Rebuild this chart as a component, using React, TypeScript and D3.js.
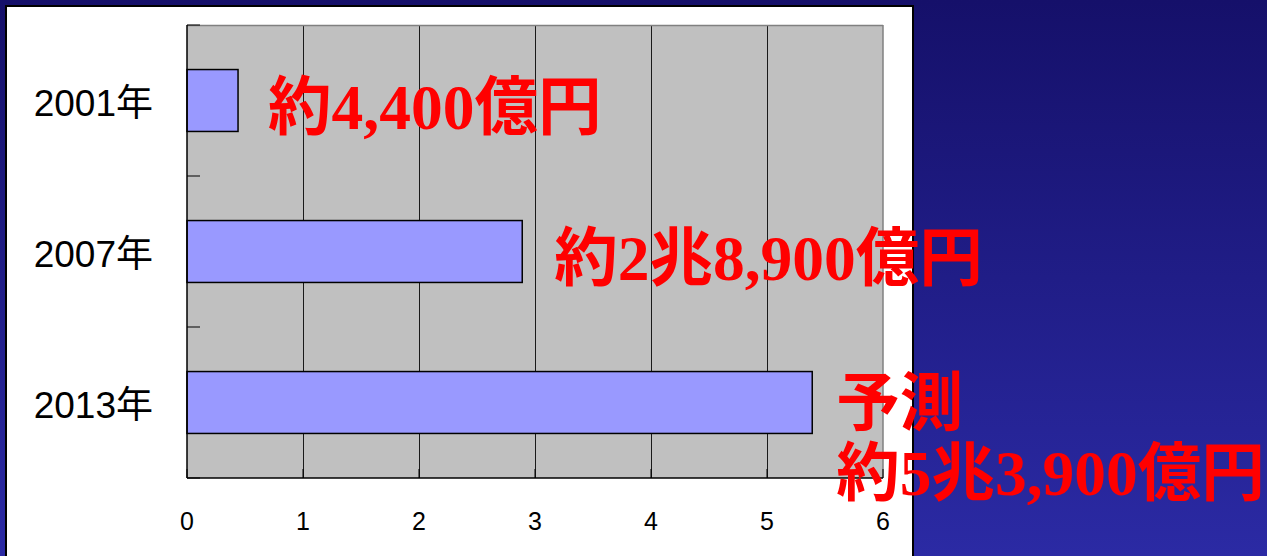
import React from "react";
import * as d3 from "d3";

const categories = ["2001年", "2007年", "2013年"];
const values = [0.44, 2.89, 5.39];
const valueLabels = [["約4,400億円"], ["約2兆8,900億円"], ["予測", "約5兆3,900億円"]];
const xTicks = [0, 1, 2, 3, 4, 5, 6];

const W = 1267;
const H = 556;
const labelDx = [30, 32, 24];

export default function App() {
  const x = d3.scaleLinear().domain([0, 6]).range([187, 883]);
  const y = d3
    .scaleBand<string>()
    .domain(categories)
    .range([25, 478])
    .paddingInner(0.59)
    .paddingOuter(0.295);
  const step = y.step();
  const catBounds = [25, 25 + step, 25 + 2 * step, 478];

  return (
    <svg
      width={W}
      height={H}
      style={{ position: "absolute", left: 0, top: 0, display: "block" }}
    >
      <defs>
        <linearGradient id="bg" x1="0" y1="0" x2="0" y2="1">
          <stop offset="0" stopColor="#15106a" />
          <stop offset="1" stopColor="#2b2aa4" />
        </linearGradient>
      </defs>
      <rect x={0} y={0} width={W} height={H} fill="url(#bg)" />
      <rect x={6} y={6} width={907} height={570} fill="#ffffff" stroke="#000" strokeWidth={2} />

      {/* plot area */}
      <rect x={x(0)} y={25} width={x(6) - x(0)} height={478 - 25} fill="#c0c0c0" />
      {xTicks.slice(1, -1).map((t) => (
        <line key={t} x1={x(t) + 0.5} x2={x(t) + 0.5} y1={25} y2={478} stroke="#1a1a1a" strokeWidth={1} />
      ))}
      <line x1={x(0)} x2={x(6)} y1={25.5} y2={25.5} stroke="#808080" strokeWidth={1.5} />
      <line x1={x(6)} x2={x(6)} y1={25} y2={478} stroke="#808080" strokeWidth={1.5} />

      {/* bars */}
      {categories.map((c, i) => (
        <rect
          key={c}
          x={x(0)}
          y={y(c)}
          width={x(values[i]) - x(0)}
          height={y.bandwidth()}
          fill="#9999ff"
          stroke="#000"
          strokeWidth={1.5}
        />
      ))}

      {/* axes */}
      <line x1={x(0)} x2={x(0)} y1={25} y2={478} stroke="#000" strokeWidth={1.5} />
      <line x1={x(0)} x2={x(6)} y1={478} y2={478} stroke="#000" strokeWidth={1.5} />
      {catBounds.map((b, i) => (
        <line key={i} x1={x(0)} x2={x(0) + 13} y1={b} y2={b} stroke="#000" strokeWidth={1} />
      ))}
      {xTicks.map((t) => (
        <line key={t} x1={x(t)} x2={x(t)} y1={469} y2={478} stroke="#000" strokeWidth={1} />
      ))}

      {/* category labels */}
      {categories.map((c) => (
        <text
          key={c}
          x={153}
          y={(y(c) as number) + y.bandwidth() / 2 + 15}
          textAnchor="end"
          fontSize={37}
          fontFamily="'Liberation Sans', Arial, 'Noto Sans CJK JP', sans-serif"
          fill="#000"
        >
          {c}
        </text>
      ))}

      {/* x tick labels */}
      {xTicks.map((t) => (
        <text
          key={t}
          x={x(t)}
          y={530}
          textAnchor="middle"
          fontSize={25}
          fontFamily="'Liberation Sans', Arial, sans-serif"
          fill="#000"
        >
          {t}
        </text>
      ))}

      {/* value labels */}
      {categories.map((c, i) => {
        const cy = (y(c) as number) + y.bandwidth() / 2;
        const lines = valueLabels[i];
        const base = lines.length === 1 ? cy + 28 : cy + 22;
        const lx = x(values[i]) + labelDx[i];
        return (
          <text
            key={c}
            x={lx}
            y={base}
            fontSize={63.5}
            fontWeight="bold"
            fontFamily="'Liberation Serif', 'Noto Sans CJK JP', serif"
            fill="#ff0000"
          >
            {lines.map((l, j) => (
              <tspan key={j} x={lx} dy={j === 0 ? 0 : 70}>
                {l}
              </tspan>
            ))}
          </text>
        );
      })}
    </svg>
  );
}
